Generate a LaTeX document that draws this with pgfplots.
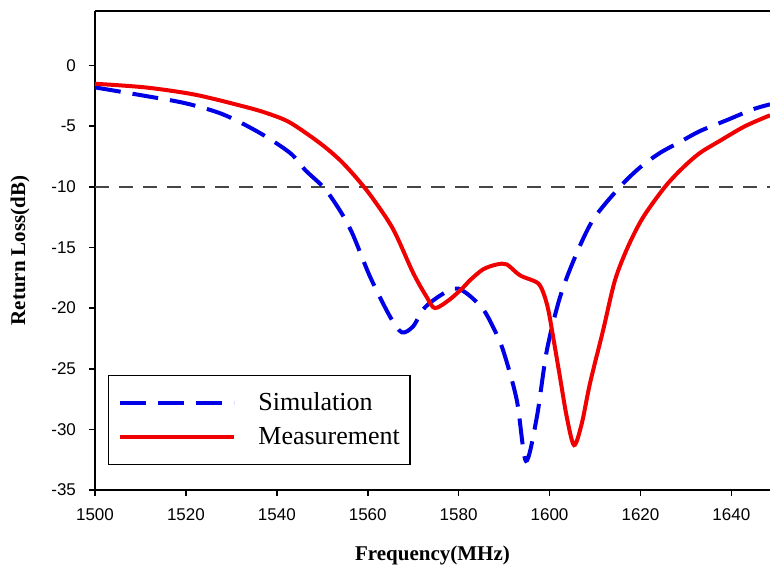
\documentclass[border=0pt]{standalone}
\usepackage{fontspec}
\setmainfont{Liberation Serif}
\setsansfont{Liberation Sans}
\usepackage{pgfplots}
\pgfplotsset{compat=1.18}

\definecolor{simblue}{RGB}{0,0,230}
\definecolor{measred}{RGB}{240,0,0}
\definecolor{refgray}{RGB}{70,70,70}

\begin{document}
\begin{tikzpicture}
\begin{axis}[
  scale only axis,
  width=337.5pt, height=239.5pt,
  xmin=1500, xmax=1648.5,
  ymin=-35, ymax=4.5,
  axis lines*=left,
  axis line style={line width=0.8pt},
  xtick={1500,1520,...,1640},
  ytick={-35,-30,...,0},
  tick align=outside,
  major tick length=3pt,
  tick style={line width=0.8pt, black},
  /pgf/number format/assume math mode=true,
  /pgf/number format/set thousands separator={},
  ticklabel style={font=\sffamily\fontsize{8.5}{10}\selectfont},
  yticklabel style={xshift=-3pt},
  xticklabel style={yshift=-3pt},
  xlabel={\textbf{Frequency(MHz)}},
  ylabel={\textbf{Return Loss(dB)}},
  label style={font=\fontsize{10.5}{12}\selectfont},
  xlabel style={at={(axis description cs:0.5,-0.136)}, anchor=center},
  ylabel style={at={(axis description cs:-0.111,0.5)}, anchor=center, rotate=0},
  legend cell align=left,
  legend image code/.code={\path[draw=none] (0pt,0pt) -- (70pt,0pt); \draw[#1] (3pt,0pt) -- (60pt,0pt);},
  legend style={at={(rel axis cs:0.019,0.052)}, anchor=south west,
    draw=black, line width=0.6pt,
    font=\fontsize{13}{14}\selectfont,
    inner xsep=3pt, inner ysep=6.5pt, row sep=3pt,
    nodes={inner sep=2pt}},
]
% reference level
\addplot[refgray, line width=1pt, dash pattern=on 7pt off 5pt, forget plot]
  coordinates {(1500,-10) (1648.5,-10)};

% simulation
\addplot[simblue, line width=2pt, dash pattern=on 13pt off 6pt, smooth, tension=0.5]
  coordinates {
  (1500,-1.8) (1511,-2.5) (1519.8,-3.1) (1528,-4.0) (1536,-5.5) (1542.9,-7.2)
  (1546.2,-8.6) (1550.2,-10.0) (1552.4,-11.1) (1554.6,-12.4) (1556.8,-14.0)
  (1560.5,-17.4) (1564.9,-20.7) (1567.5,-22.0) (1570,-21.5) (1572.2,-20.1)
  (1575,-19.2) (1578.1,-18.5) (1580,-18.4) (1582.5,-19.0) (1585.4,-20.1)
  (1587.5,-21.5) (1589.8,-23.5) (1592.8,-27.6) (1594.8,-32.6) (1597.2,-29.0)
  (1599.4,-23.5) (1602.3,-19.1) (1605.6,-15.8) (1609.6,-12.7) (1615.5,-10.0)
  (1619.9,-8.4) (1624.3,-7.2) (1628.7,-6.3) (1633.1,-5.4) (1639,-4.5)
  (1644.8,-3.6) (1648.5,-3.2)
  };
\addlegendentry{Simulation}

% measurement
\addplot[measred, line width=2pt, smooth, tension=0.5]
  coordinates {
  (1500,-1.5) (1511,-1.8) (1522,-2.4) (1533,-3.4) (1538,-3.95) (1542.9,-4.7)
  (1549.5,-6.4) (1553.9,-7.8) (1557.6,-9.3) (1561,-10.9) (1565.6,-13.5)
  (1570,-17.1) (1573,-19.1) (1574.8,-20.0) (1578,-19.3) (1581,-18.3)
  (1582.5,-17.7) (1585.4,-16.8) (1588.4,-16.4) (1590.6,-16.4) (1593.5,-17.3)
  (1597.3,-17.9) (1598.6,-18.7) (1599.7,-20.1) (1600.8,-22.4) (1602.3,-25.7)
  (1603.8,-29.0) (1605.4,-31.3) (1607.1,-29.5) (1608.9,-26.2) (1611.8,-21.8)
  (1614.4,-17.7) (1617.3,-14.9) (1620.6,-12.5) (1625.4,-10.0) (1629.4,-8.4)
  (1633.1,-7.2) (1637.5,-6.2) (1643,-5.0) (1648.5,-4.1)
  };
\addlegendentry{Measurement}

\draw[line width=0.8pt] (rel axis cs:0,1) -- (rel axis cs:1,1);
\end{axis}
\pgfresetboundingbox
\path[use as bounding box] (-47.5pt,-40.5pt) rectangle (337.5pt,245pt);
\end{tikzpicture}
\end{document}
